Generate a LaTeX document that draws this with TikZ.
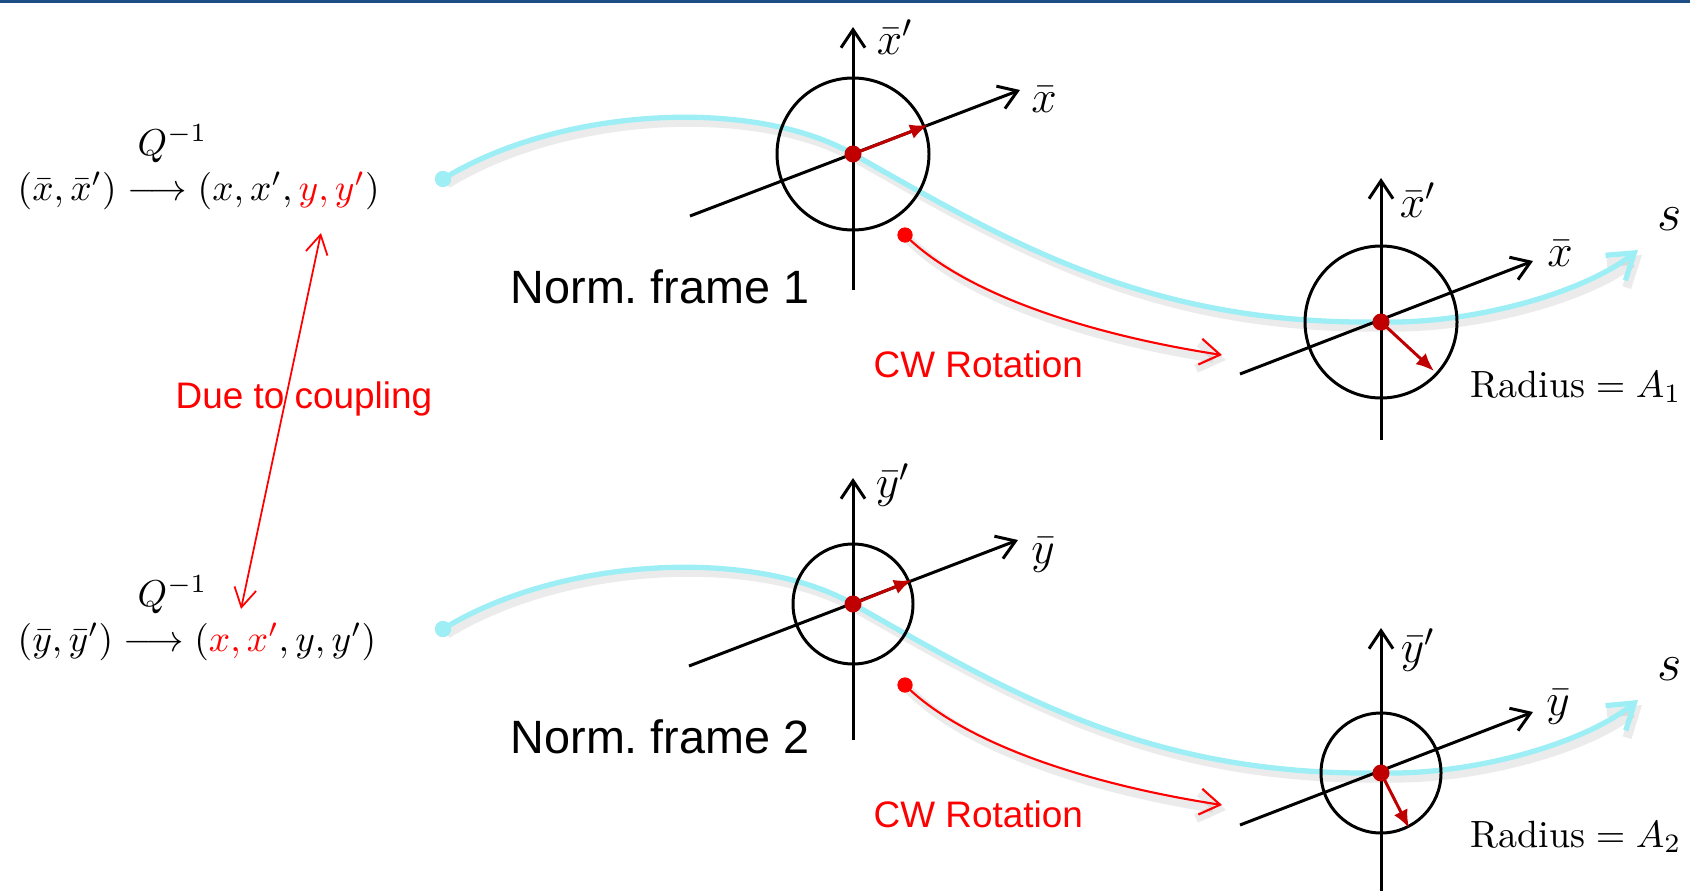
\RequirePackage{fix-cm}
\documentclass[tikz,border=0pt]{standalone}
\usepackage{amsmath}
\usepackage{fontspec}
\setsansfont{Liberation Sans}
\usetikzlibrary{arrows.meta}

\definecolor{bleubarre}{RGB}{31,78,135}
\definecolor{cyanclair}{RGB}{158,238,245}
\definecolor{rougefonce}{RGB}{192,0,0}

\tikzset{
  axe/.style={line width=0.85pt, -{Straight Barb[length=1.8mm,width=2.4mm]}},
  cercle/.style={line width=0.85pt},
  rayon/.style={rougefonce, line width=0.85pt, -{Latex[length=1.8mm,width=1.5mm]}},
  ombre/.style={preaction={draw=black, draw opacity=0.08, line width=2.6pt,
      transform canvas={shift={(0.4mm,-0.5mm)}}}},
  fleche rot/.style={red, line width=0.6pt, -{Straight Barb[length=2mm,width=2.6mm]}, ombre},
  trajet/.style={cyanclair, line width=1.5pt, -{Straight Barb[length=2.4mm,width=3.2mm]}, ombre},
  couplage/.style={red, line width=0.5pt, {Straight Barb[length=1.9mm,width=2.2mm]}-{Straight Barb[length=1.9mm,width=2.2mm]}},
  centre/.style={circle, fill=rougefonce, inner sep=0pt, minimum size=1.7mm},
  point rouge/.style={circle, fill=red, inner sep=0pt, minimum size=1.5mm},
  point cyan/.style={circle, fill=cyanclair, inner sep=0pt, minimum size=1.6mm},
  formule/.style={inner sep=0pt, font=\fontsize{10.65}{13}\selectfont},
  etiq/.style={inner sep=0pt, font=\fontsize{13}{15}\selectfont},
  titre/.style={inner sep=0pt, font=\sffamily\fontsize{13.3}{15}\selectfont},
  note rouge/.style={inner sep=0pt, red, font=\sffamily\fontsize{10.5}{12}\selectfont},
  rayontxt/.style={inner sep=0pt, font=\fontsize{10.8}{13}\selectfont}
}

\begin{document}
\begin{tikzpicture}[x=0.1mm, y=-0.1mm]
  % cadre de la page (coordonnees en pixels, y vers le bas)
  \useasboundingbox (0,0) rectangle (1690,891);
  \fill[bleubarre] (0,0) rectangle (1690,3);

  % centres des quatre reperes normalises
  \coordinate (o1) at (853,154);
  \coordinate (o2) at (1381,322);
  \coordinate (o3) at (853,604);
  \coordinate (o4) at (1381,773);

  % formules de gauche
  \node[formule, anchor=base west] (f1) at (17,200)
    {$(\bar{x},\bar{x}')\longrightarrow(x,x',\textcolor{red}{y,y'})$};
  \node[formule, anchor=base west] (q1) at (137,155) {$Q^{-1}$};
  \node[formule, anchor=base west] (f2) at (17,651)
    {$(\bar{y},\bar{y}')\longrightarrow(\textcolor{red}{x,x'},y,y')$};
  \node[formule, anchor=base west] (q2) at (137,606) {$Q^{-1}$};

  % couplage entre les deux plans
  \node[note rouge, anchor=base west] (cpl) at (175,408) {Due to coupling};
  \coordinate (ch) at (321,233);
  \coordinate (cb) at (241,609);
  \draw[couplage] (cb) -- (ch);

  % trajectoire de reference, plan 1
  \node[point cyan] (d1) at (443,179) {};
  \coordinate (s1) at (1638,250);
  \draw[trajet] (d1.center) .. controls (560,107) and (753,97) .. (o1)
    .. controls (1013,245) and (1150,325) .. (o2)
    .. controls (1475,324) and (1585,292) .. (s1);
  \node[point cyan] at (d1) {};

  % trajectoire de reference, plan 2
  \node[point cyan] (d2) at (443,629) {};
  \coordinate (s2) at (1638,700);
  \draw[trajet] (d2.center) .. controls (560,557) and (753,547) .. (o3)
    .. controls (1013,695) and (1150,776) .. (o4)
    .. controls (1475,775) and (1585,743) .. (s2);
  \node[point cyan] at (d2) {};

  % repere 1 : premiere position
  \draw[cercle] (o1) circle (7.6mm);
  \draw[axe] (853,290) -- (853,27);
  \draw[axe] (690,216) -- (1020,90);
  \draw[rayon] (o1) -- (928,125);
  \node[centre] at (o1) {};
  \node[etiq] (xp1) at (895,37) {$\bar{x}'$};
  \node[etiq] (x1) at (1044,100) {$\bar{x}$};
  \node[titre, anchor=base west] (nf1) at (510,303) {Norm.\ frame 1};

  % repere 1 : seconde position
  \draw[cercle] (o2) circle (7.6mm);
  \draw[axe] (1381,440) -- (1381,178);
  \draw[axe] (1240,374) -- (1533,261);
  \draw[rayon] (o2) -- (1434,371);
  \node[centre] at (o2) {};
  \node[etiq] (xp2) at (1418,200) {$\bar{x}'$};
  \node[etiq] (x2) at (1560,254) {$\bar{x}$};
  \node[etiq, font=\fontsize{15}{17}\selectfont] (sa) at (1670,219) {$s$};
  \node[rayontxt, anchor=base west] (ra) at (1470,397) {$\mathrm{Radius}=A_1$};

  % rotation horaire, plan 1
  \node[point rouge] (r1) at (905,235) {};
  \coordinate (rf1) at (1222,355);
  \draw[fleche rot] (r1.center) .. controls (965,295) and (1092,335) .. (rf1);
  \node[point rouge] at (r1) {};
  \node[note rouge, anchor=base west] (cw1) at (873,377) {CW Rotation};

  % repere 2 : premiere position
  \draw[cercle] (o3) circle (6mm);
  \draw[axe] (853,740) -- (853,478);
  \draw[axe] (689,666) -- (1018,540);
  \draw[rayon] (o3) -- (912,580);
  \node[centre] at (o3) {};
  \node[etiq] (yp1) at (893,485) {$\bar{y}'$};
  \node[etiq] (y1) at (1043,555) {$\bar{y}$};
  \node[titre, anchor=base west] (nf2) at (510,753) {Norm.\ frame 2};

  % repere 2 : seconde position
  \draw[cercle] (o4) circle (6mm);
  \draw[axe] (1381,891) -- (1381,628);
  \draw[axe] (1240,825) -- (1533,712);
  \draw[rayon] (o4) -- (1409,828);
  \node[centre] at (o4) {};
  \node[etiq] (yp2) at (1418,650) {$\bar{y}'$};
  \node[etiq] (y2) at (1558,707) {$\bar{y}$};
  \node[etiq, font=\fontsize{15}{17}\selectfont] (sb) at (1670,669) {$s$};
  \node[rayontxt, anchor=base west] (rb) at (1470,847) {$\mathrm{Radius}=A_2$};

  % rotation horaire, plan 2
  \node[point rouge] (r2) at (905,685) {};
  \coordinate (rf2) at (1222,805);
  \draw[fleche rot] (r2.center) .. controls (965,745) and (1092,785) .. (rf2);
  \node[point rouge] at (r2) {};
  \node[note rouge, anchor=base west] (cw2) at (873,827) {CW Rotation};
\end{tikzpicture}
\end{document}
